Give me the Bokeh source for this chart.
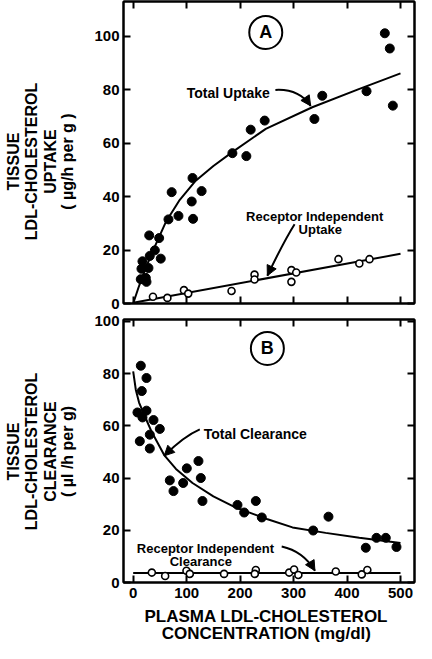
from bokeh.plotting import figure
from bokeh.models import Range1d, LinearAxis, FixedTicker, Label, Arrow, NormalHead
from bokeh.layouts import column, row
from bokeh.embed import file_html
from bokeh.resources import INLINE

FONT = "Liberation Sans"

# ---------------- data ----------------
x_ticks = [0, 100, 200, 300, 400, 500]
y_ticks = [0, 20, 40, 60, 80, 100]

# Panel A: tissue LDL-cholesterol uptake (ug/h per g)
uptake_conc = [14.2, 15.5, 17.4, 23.6, 24.9, 28.6, 31, 30, 40.5, 48.6, 51.6, 66, 72, 84.7,
               109.5, 111, 112, 128, 185.6, 211.7, 219.8, 246, 339, 353.7, 436.5, 470.7, 480, 485.7]
uptake_total = [9.1, 13, 15.8, 9.6, 8.1, 13.3, 17.8, 25.5, 19.9, 24.5, 16.8, 31.5, 41.7, 32.8,
                38.2, 47, 31.7, 42.1, 56.3, 55.2, 65.1, 68.5, 69.1, 77.8, 79.5, 101.2, 95.5, 74.1]
ri_uptake_conc = [37, 64, 95, 103, 184, 227, 227, 296, 305, 296, 384, 423, 442]
ri_uptake = [2.5, 2.1, 5.0, 3.7, 4.7, 10.8, 9.0, 12.5, 11.6, 8.1, 16.6, 15.0, 16.6]

uptake_fit_x = [0, 10, 20, 36, 61, 86, 117, 150, 186, 248, 335, 422, 500]
uptake_fit_y = [0, 6.0, 11.5, 19.3, 30.5, 38.5, 46.0, 51.5, 56.8, 65.4, 73.5, 80.3, 86.2]
ri_uptake_fit_x = [0, 500]
ri_uptake_fit_y = [0.3, 18.6]

# Panel B: tissue LDL-cholesterol clearance (ul/h per g)
clear_conc = [14.3, 16.1, 24.9, 8.0, 24.9, 17.4, 12.4, 31.1, 31.1, 38, 49.8, 68.5, 75.4, 93.5,
              100.3, 122.1, 126.5, 129.6, 195.1, 207.6, 229.4, 240.6, 336.7, 365.3, 435.1, 455.1, 472.5, 492.5]
clear_total = [83.0, 73.3, 78.3, 65.1, 65.8, 63.2, 54.1, 56.6, 51.3, 62.2, 58.8, 39.1, 35.0, 38.1,
               43.7, 46.5, 40.0, 31.2, 29.7, 26.8, 31.2, 24.9, 19.9, 25.2, 13.3, 17.1, 17.1, 13.6]
ri_clear_conc = [34.9, 59.8, 99.7, 105.9, 170, 229.4, 227.5, 291.8, 301, 309, 379, 427.6, 438]
ri_clear = [3.8, 2.5, 4.5, 3.3, 3.3, 4.8, 3.3, 3.8, 5.0, 2.9, 4.2, 3.1, 4.8]

clear_fit_x = [0, 5, 11, 24, 35, 58, 80, 111, 150, 192, 250, 298, 360, 423, 500]
clear_fit_y = [80.8, 73.7, 68.9, 62.6, 57.5, 48.8, 43.5, 38.1, 33.0, 28.7, 24.3, 21.1, 19.0, 17.1, 15.1]
ri_clear_fit_x = [0, 500]
ri_clear_fit_y = [3.6, 3.6]

y_title_a = ["TISSUE", "LDL-CHOLESTEROL", "UPTAKE", "( µg/h per g )"]
y_title_b = ["TISSUE", "LDL-CHOLESTEROL", "CLEARANCE", "( µl /h per g)"]
x_title = ["PLASMA LDL-CHOLESTEROL", "CONCENTRATION (mg/dl)"]


# ---------------- helpers ----------------
def add_axis(p, side, ticks, labels):
    ax = LinearAxis(ticker=FixedTicker(ticks=ticks),
                    major_tick_in=7, major_tick_out=0,
                    minor_tick_in=0, minor_tick_out=0, minor_tick_line_color=None,
                    axis_line_width=2, axis_line_color="black",
                    major_tick_line_width=2, major_tick_line_color="black",
                    major_label_text_font=FONT, major_label_text_font_style="bold",
                    axis_label_standoff=0)
    if labels:
        ax.major_label_text_font_size = "15px"
        ax.major_label_text_color = "black"
        ax.major_label_standoff = 4 if side == "left" else 5
    else:
        ax.major_label_text_font_size = "0px"
        ax.major_label_text_color = None
        ax.major_label_standoff = 0
    p.add_layout(ax, side)


def make_fig(height, y_max, top, bottom, show_x_labels):
    p = figure(width=328, height=height,
               x_range=Range1d(-18.1, 526.2), y_range=Range1d(0, y_max),
               x_axis_type=None, y_axis_type=None,
               output_backend="svg", toolbar_location=None,
               min_border_left=35, min_border_right=2,
               min_border_top=top, min_border_bottom=bottom)
    p.outline_line_color = "black"
    p.outline_line_width = 2
    p.background_fill_color = "white"
    p.border_fill_color = "white"
    add_axis(p, "left", y_ticks, True)
    add_axis(p, "right", y_ticks, False)
    add_axis(p, "above", x_ticks, False)
    add_axis(p, "below", x_ticks, show_x_labels)
    return p


def blank_fig(width, height):
    p = figure(width=width, height=height,
               x_range=Range1d(0, width), y_range=Range1d(0, height),
               x_axis_type=None, y_axis_type=None,
               output_backend="svg", toolbar_location=None,
               min_border=0, min_border_left=0, min_border_right=0,
               min_border_top=0, min_border_bottom=0)
    p.outline_line_color = None
    p.background_fill_color = "white"
    p.border_fill_color = "white"
    return p


def txt(p, x, y, s, size="14px", angle=0, baseline="alphabetic", align="center"):
    p.add_layout(Label(x=x, y=y, text=s, text_font=FONT, text_font_style="bold",
                       text_font_size=size, text_color="black", angle=angle,
                       angle_units="deg", text_align=align, text_baseline=baseline))


def curved_arrow(p, x0, y0, cx, cy, x1, y1):
    p.quadratic(x0=x0, y0=y0, x1=x1, y1=y1, cx=cx, cy=cy, line_color="black", line_width=2)
    p.add_layout(Arrow(end=NormalHead(size=10, fill_color="black", line_color="black", line_width=1),
                       x_start=cx, y_start=cy, x_end=x1, y_end=y1, line_alpha=0))


def panel_mark(p, x, y, letter):
    p.scatter(x=[x], y=[y], marker="circle", size=33, fill_color="white",
              line_color="black", line_width=2)
    txt(p, x, y, letter, size="18px", baseline="middle")


# ---------------- panel A ----------------
pa = make_fig(311, 113.1, 1, 8, False)
pa.line(uptake_fit_x, uptake_fit_y, line_color="black", line_width=2)
pa.line(ri_uptake_fit_x, ri_uptake_fit_y, line_color="black", line_width=2)
pa.scatter(uptake_conc, uptake_total, marker="circle", size=9,
           fill_color="black", line_color="black")
pa.scatter(ri_uptake_conc, ri_uptake, marker="circle", size=7,
           fill_color="white", line_color="black", line_width=1.6)
panel_mark(pa, 248, 101.5, "A")
txt(pa, 177.9, 78.7, "Total Uptake")
curved_arrow(pa, 266, 80.0, 310, 80.5, 332, 74.0)
txt(pa, 339.5, 32.5, "Receptor Independent", size="13px")
txt(pa, 350, 27.8, "Uptake", size="13px")
curved_arrow(pa, 301.9, 29.7, 281, 23, 251, 10.4)

# ---------------- panel B ----------------
pb = make_fig(293, 100.7, 8, 22, True)
pb.line(clear_fit_x, clear_fit_y, line_color="black", line_width=2)
pb.line(ri_clear_fit_x, ri_clear_fit_y, line_color="black", line_width=2)
pb.scatter(clear_conc, clear_total, marker="circle", size=9,
           fill_color="black", line_color="black")
pb.scatter(ri_clear_conc, ri_clear, marker="circle", size=7,
           fill_color="white", line_color="black", line_width=1.6)
panel_mark(pb, 251, 89.6, "B")
txt(pb, 228.4, 56.9, "Total Clearance")
curved_arrow(pb, 124.6, 58.6, 95, 56, 58, 48.5)
txt(pb, 135.2, 13.0, "Receptor Independent", size="13px")
txt(pb, 126.5, 7.9, "Clearance", size="13px")
curved_arrow(pb, 277.8, 13.8, 318, 12, 340, 4.5)

# ---------------- axis titles ----------------
ttl = blank_fig(88, 604)
for xv, s in zip([12.7, 31.0, 49.5, 67.3], y_title_a):
    txt(ttl, xv, 443, s, size="16px", angle=90, baseline="middle")
for xv, s in zip([12.7, 31.0, 49.5, 67.3], y_title_b):
    txt(ttl, xv, 153, s, size="16px", angle=90, baseline="middle")

xt = blank_fig(416, 39)
txt(xt, 265.8, 27, x_title[0], size="17px", baseline="middle")
txt(xt, 265.8, 10, x_title[1], size="17px", baseline="middle")

layout = column(row(ttl, column(pa, pb, spacing=0), spacing=0), xt, spacing=0)
open("out.html", "w").write(file_html(layout, INLINE))
